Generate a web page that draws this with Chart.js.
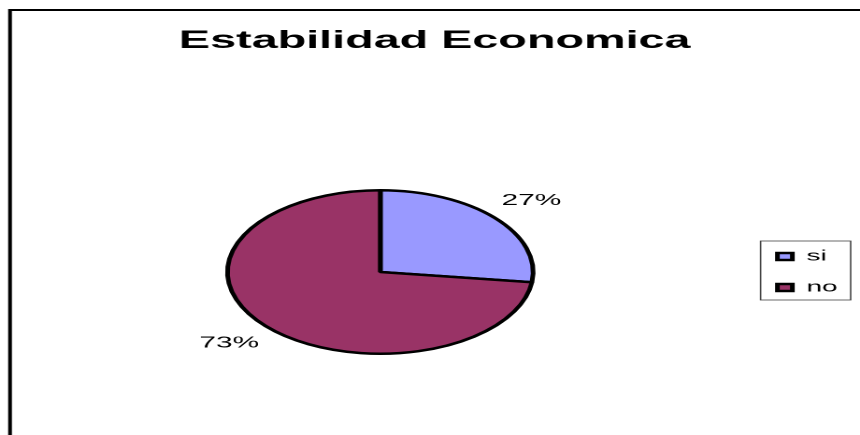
<!DOCTYPE html>
<html>
<head>
<meta charset="utf-8">
<script src="https://cdn.jsdelivr.net/npm/chart.js@4.4.0/dist/chart.umd.min.js"></script>
<style>
html, body { margin: 0; padding: 0; background: #fff; overflow: hidden; }
/* the source picture is stretched sideways, so the whole chart is too */
#wrap { position: relative; width: 460px; height: 435px; transform: scale(1.8696, 1); transform-origin: 0 0; }
</style>
</head>
<body>
<div id="wrap"><canvas id="pieChart"></canvas></div>
<script>
var labels = ["si", "no"];
var values = [27, 73];
var colors = ["#9999FF", "#993366"];
var titleText = "Estabilidad Economica";

var font = "'Liberation Sans', Arial, sans-serif";
Chart.defaults.color = "#000";
Chart.defaults.font.family = font;

// outer frame (only top and left edges are visible)
var frame = {
	id: "frame",
	beforeDraw: function (chart) {
		var ctx = chart.ctx;
		ctx.save();
		ctx.strokeStyle = "#000";
		ctx.lineWidth = 2;
		ctx.strokeRect(5.35, 10, 700, 700);
		ctx.restore();
	},
};

// percentage labels outside each slice
var pctLabels = {
	id: "pctLabels",
	afterDatasetsDraw: function (chart) {
		var ctx = chart.ctx;
		var meta = chart.getDatasetMeta(0);
		var total = values.reduce(function (a, b) { return a + b; }, 0);
		ctx.save();
		ctx.font = "16px " + font;
		ctx.fillStyle = "#000";
		ctx.textAlign = "center";
		ctx.textBaseline = "middle";
		meta.data.forEach(function (arc, i) {
			var p = arc.getProps(["x", "y", "startAngle", "endAngle", "outerRadius"], true);
			var mid = (p.startAngle + p.endAngle) / 2;
			var r = p.outerRadius + 26;
			ctx.fillText(Math.round((values[i] / total) * 100) + "%", p.x + Math.cos(mid) * r, p.y + Math.sin(mid) * r);
		});
		ctx.restore();
	},
};

// thin box round the legend
var legendBox = {
	id: "legendBox",
	afterDraw: function (chart) {
		var hb = chart.legend.legendHitBoxes;
		if (!hb || !hb.length) return;
		var left = hb[0].left - 9;
		var right = hb[0].left;
		hb.forEach(function (h) { right = Math.max(right, h.left + h.width); });
		right += 7;
		var top = hb[0].top - 8;
		var bottom = hb[hb.length - 1].top + 20;
		var ctx = chart.ctx;
		ctx.save();
		ctx.strokeStyle = "#444";
		ctx.lineWidth = 0.8;
		ctx.strokeRect(left, top, right - left, bottom - top);
		ctx.restore();
	},
};

var ctx = document.getElementById("pieChart").getContext("2d");
new Chart(ctx, {
	type: "pie",
	data: {
		labels: labels,
		datasets: [
			{
				data: values,
				backgroundColor: colors,
				borderColor: "#000",
				borderWidth: 2.5,
				hoverOffset: 0,
			},
		],
	},
	options: {
		responsive: true,
		maintainAspectRatio: false,
		animation: false,
		devicePixelRatio: 2,
		radius: 81.75,
		layout: { padding: { left: 7, right: 2, top: 0, bottom: 0 } },
		plugins: {
			title: {
				display: true,
				text: titleText,
				color: "#000",
				font: { size: 25, weight: "bold", family: font },
				padding: { top: 26.3, bottom: 52.7 },
			},
			legend: {
				position: "right",
				fullSize: false,
				labels: {
					boxWidth: 8,
					boxHeight: 7,
					padding: 16,
					color: "#000",
					font: { size: 15, family: font },
				},
			},
			tooltip: { enabled: false },
		},
	},
	plugins: [frame, pctLabels, legendBox],
});
</script>
</body>
</html>
